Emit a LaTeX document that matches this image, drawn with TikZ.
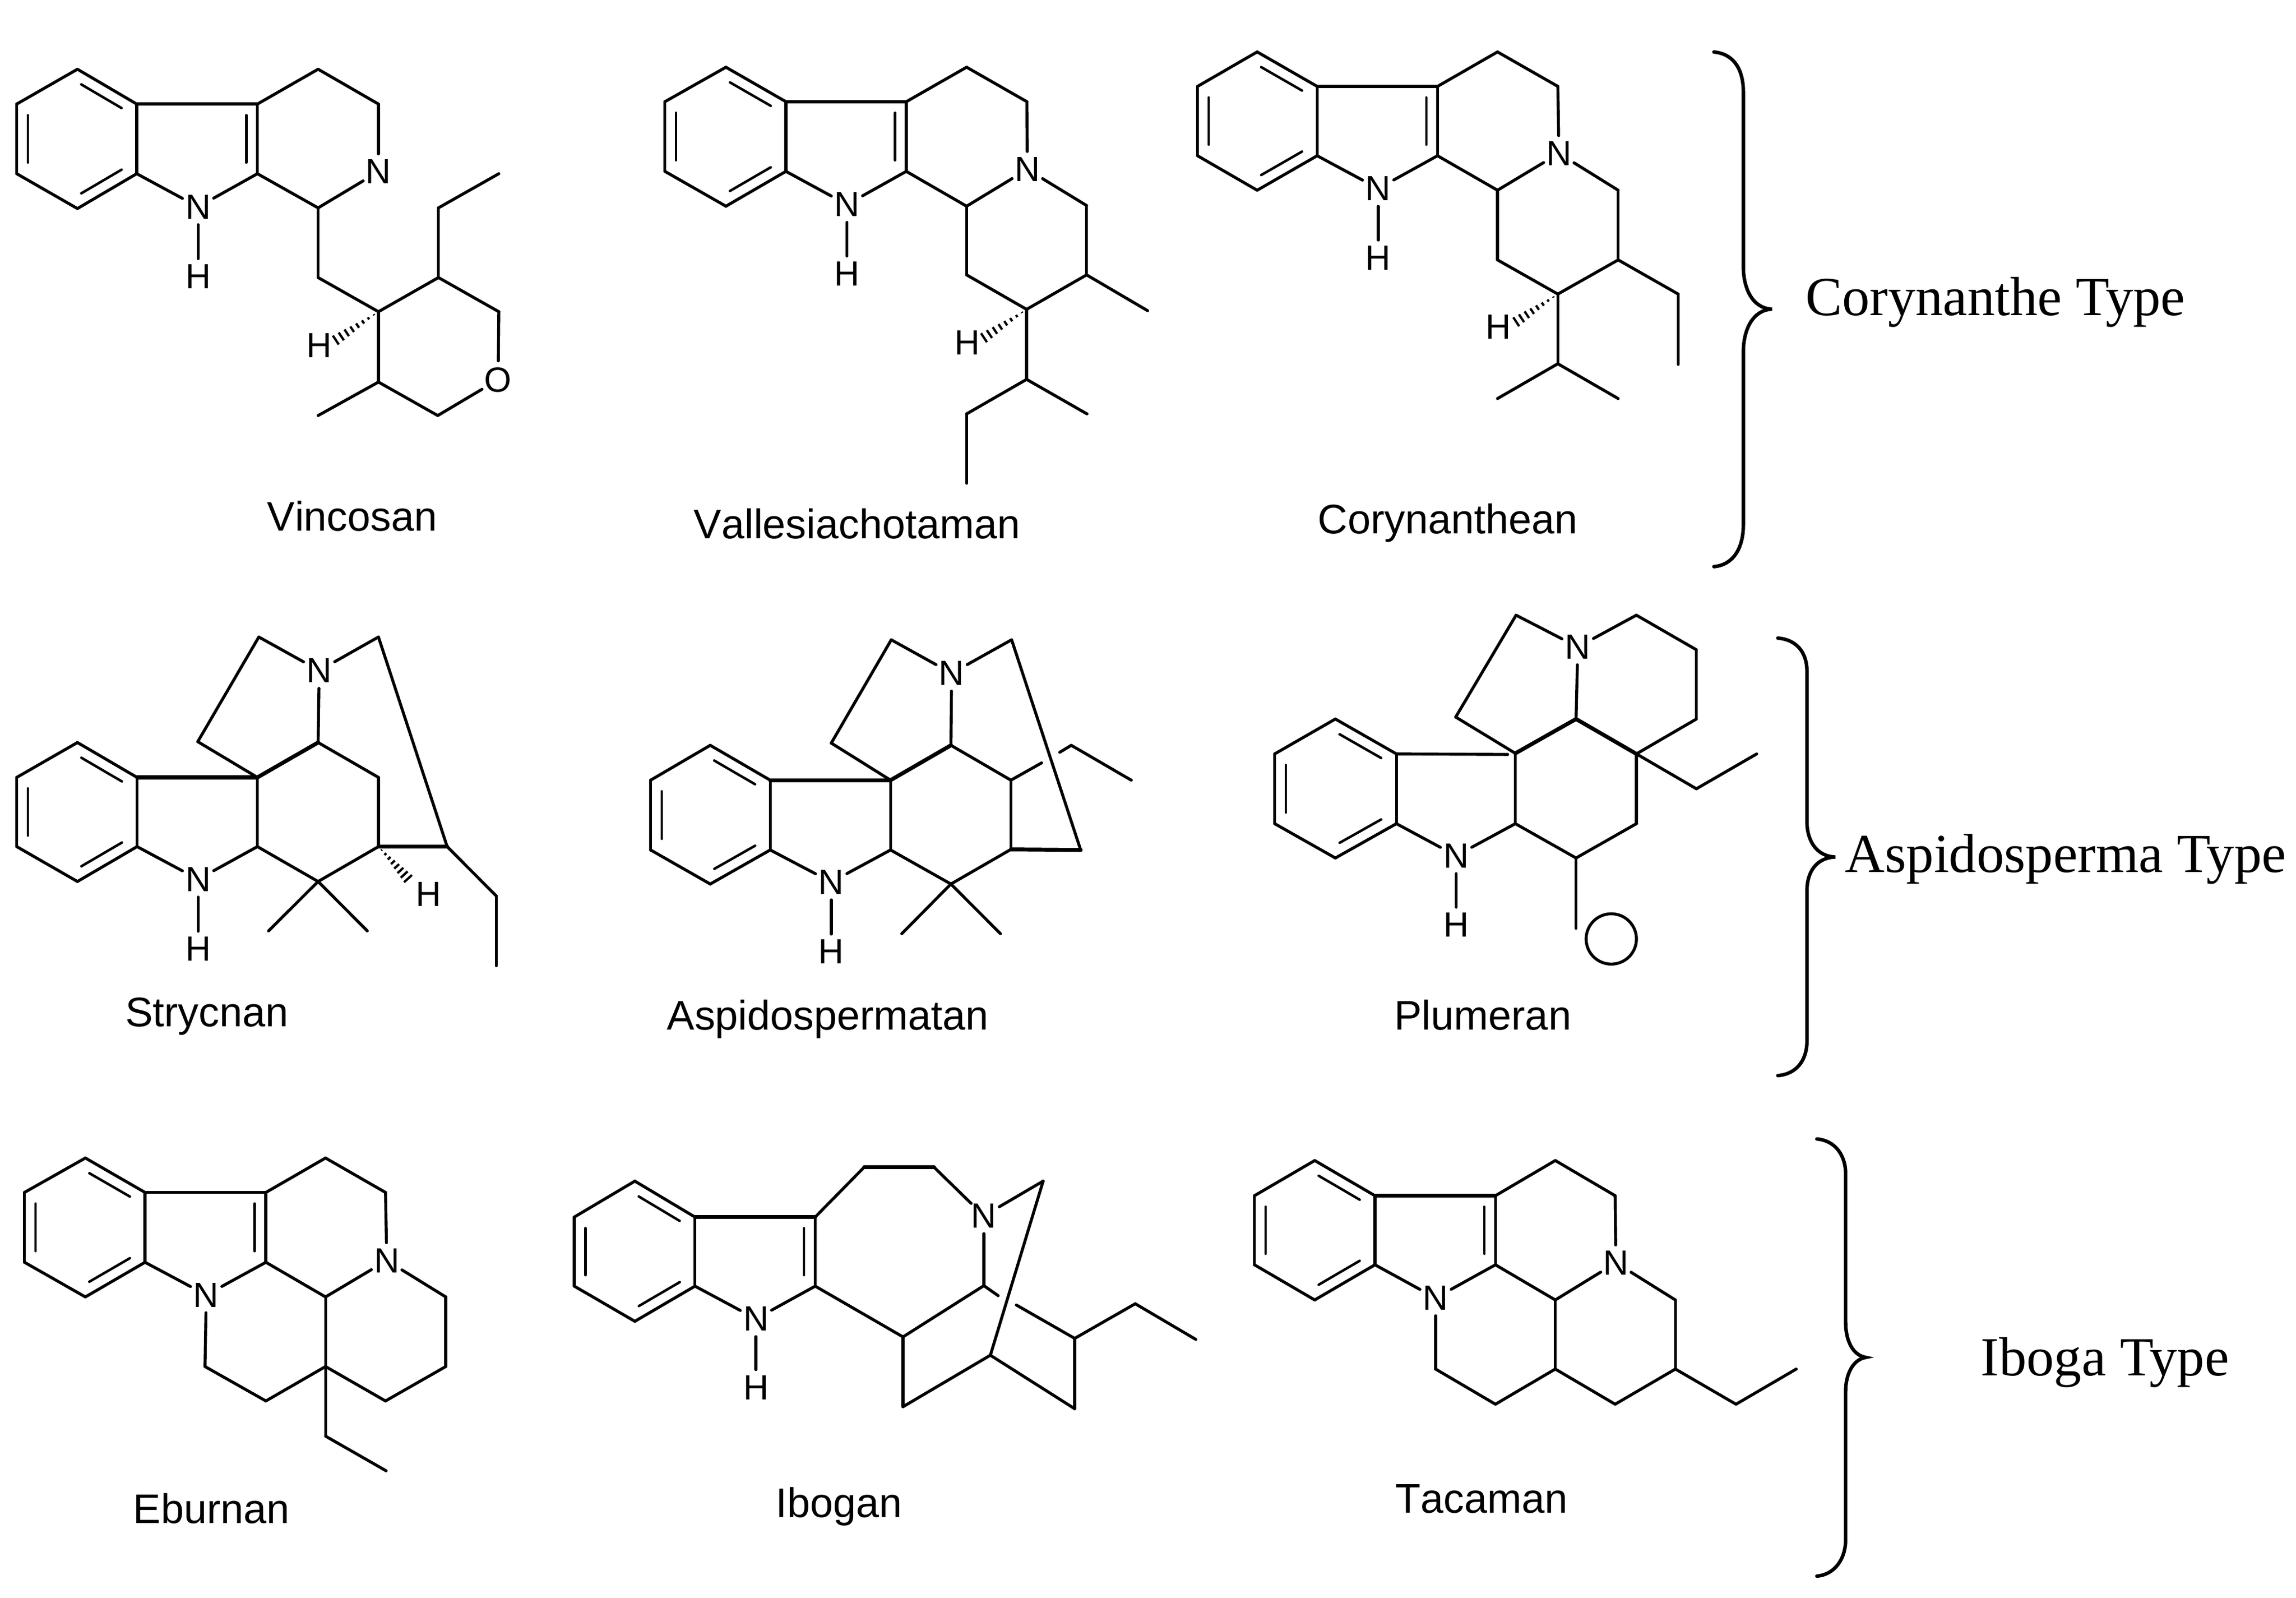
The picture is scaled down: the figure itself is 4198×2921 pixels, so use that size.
\documentclass[tikz,border=0pt]{standalone}
\usepackage{fontspec}
\setmainfont[Kerning=Off]{Liberation Sans}
\newfontfamily\tmsfont{Liberation Serif}
\usetikzlibrary{calc,shapes.geometric}
\tikzset{
  bond/.style={line width=1.35pt,line cap=round,line join=miter,black},
  bondb/.style={bond,line width=1.8pt},
  inner/.style={line width=1.15pt,line cap=round,black},
  hashline/.style={line width=1.05pt,black},
  atom/.style={circle,inner sep=0pt,minimum size=15.5pt,font=\fontsize{16}{17}\selectfont},
  lab/.style={anchor=base west,inner sep=0pt,font=\fontsize{18.9}{21}\selectfont},
  typelab/.style={anchor=base west,inner sep=0pt,font=\tmsfont\fontsize{25.15}{27}\selectfont},
  brace/.style={line width=1.6pt,line cap=round,black},
}
\newcommand{\pts}[2]{\foreach \nn/\xx/\yy in {#2} {\coordinate (#1\nn) at (\xx,\yy);}}
\newcommand{\bnd}[2]{\foreach \pp/\qq in {#2} {\draw[bond] (#1\pp) -- (#1\qq);}}
\newcommand{\bndb}[2]{\foreach \pp/\qq in {#2} {\draw[bondb] (#1\pp) -- (#1\qq);}}
\newcommand{\dbl}[2]{\draw[inner] ($(#1)!.16!(#2)!5.1pt!-90:(#2)$) -- ($(#2)!.16!(#1)!5.1pt!90:(#1)$);}
\newcommand{\ring}[1]{\bnd{#1}{a/b,b/c,c/d,d/e,e/f,f/a}\dbl{#1a}{#1b}\dbl{#1c}{#1d}\dbl{#1e}{#1f}}
\newcommand{\hashb}[2]{\foreach \hh in {.1,.22,.34,.46,.58,.70,.82,.94} {%
  \pgfmathsetmacro{\hl}{\hh*2.6}%
  \draw[hashline] ($(#1)!\hh!(#2)!\hl pt!90:(#2)$) -- ($(#1)!\hh!(#2)!\hl pt!-90:(#2)$);}}
\begin{document}
\begin{tikzpicture}[x=0.25pt,y=-0.25pt]
\fill[white] (0,0) rectangle (4198,2921);
\useasboundingbox (0,0) rectangle (4198,2921);

% Vincosan
\begin{scope}[shift={(0,80)},x=0.15944pt,y=-0.15306pt]
\pts{m1}{a/222/76,b/392/180,c/392/388,d/222/492,e/48/388,f/48/180,g/738/180,h/738/388,i/912/76,j/1085/180,k/912/490,l/912/698,m/1085/800,n/1257/698,o/1257/490,p/1430/388,q/1430/800,r/1255/1110,s/1085/1010,t/912/1110,hx/955/890}
\node[atom] (m1N1) at (568,487) {N};
\node[atom] (m1H1) at (568,695) {H};
\node[atom] (m1N2) at (1085,382) {N};
\node[atom] (m1O) at (1428,1003) {O};
\node[atom] (m1H2) at (915,900) {H};
\ring{m1}\dbl{m1g}{m1h}
\bnd{m1}{b/g,g/h,c/N1,N1/h,N1/H1,g/i,i/j,j/N2,N2/k,k/h,k/l,l/m,m/n,n/o,o/p,n/q,q/O,O/r,r/s,s/m,s/t}
\hashb{m1m}{m1hx}
\node[lab] (m1lab) at (765,1455) {Vincosan};
\end{scope}

% Vallesiachotaman
\begin{scope}[shift={(1150,80)},x=0.15944pt,y=-0.15306pt]
\pts{m2}{a/278/70,b/450/173,c/450/381,d/278/485,e/103/381,f/103/173,g/795/173,h/795/381,i/968/70,j/1141/173,k/968/485,l/968/690,m/1140/793,n/1312/690,o/1312/483,p/1487/797,q/1140/1002,r/968/1105,s/968/1312,t/1313/1105,hx/1010/883}
\node[atom] (m2N1) at (625,480) {N};
\node[atom] (m2H1) at (625,687) {H};
\node[atom] (m2N2) at (1142,375) {N};
\node[atom] (m2H2) at (970,893) {H};
\ring{m2}\dbl{m2g}{m2h}
\bnd{m2}{b/g,g/h,c/N1,N1/h,N1/H1,g/i,i/j,j/N2,N2/k,k/h,N2/o,o/n,n/m,m/l,l/k,n/p,m/q,q/r,r/s,q/t}
\hashb{m2m}{m2hx}
\node[lab] (m2lab) at (185,1478) {Vallesiachotaman};
\end{scope}

% Corynanthean
\begin{scope}[shift={(2150,60)},x=0.15944pt,y=-0.15306pt]
\pts{m3}{a/233/57,b/405/160,c/405/367,d/233/470,e/62/367,f/62/160,g/750/160,h/750/367,i/922/57,j/1095/160,k/922/470,l/922/678,m/1095/780,n/1268/678,o/1268/470,p/1440/780,q/1440/990,r/1095/988,s/922/1092,t/1268/1092,hx/968/868}
\node[atom] (m3N1) at (580,465) {N};
\node[atom] (m3H1) at (580,672) {H};
\node[atom] (m3N2) at (1098,360) {N};
\node[atom] (m3H2) at (925,878) {H};
\ring{m3}\dbl{m3g}{m3h}
\bnd{m3}{b/g,g/h,c/N1,N1/h,N1/H1,g/i,i/j,j/N2,N2/k,k/h,N2/o,o/n,n/m,m/l,l/k,n/p,p/q,m/r,r/s,r/t}
\hashb{m3m}{m3hx}
\node[lab] (m3lab) at (406,1495) {Corynanthean};
\end{scope}

% Strycnan
\begin{scope}[shift={(0,1120)},x=0.15944pt,y=-0.12755pt]
\pts{m4}{a/222/465,b/393/590,c/393/838,d/222/963,e/48/838,f/48/590,g/738/590,h/738/838,i/742/87,j/1085/87,k/567/462,l/912/465,m/1085/590,n/1085/838,o/912/963,p/770/1140,q/1053/1140,r/1282/838,s/1423/1015,t/1423/1265,hx/1175/960,hs/1085/838}
\node[atom] (m4N1) at (568,955) {N};
\node[atom] (m4H1) at (568,1205) {H};
\node[atom] (m4N2) at (915,207) {N};
\node[atom] (m4H2) at (1228,1008) {H};
\ring{m4}
\bnd{m4}{g/h,c/N1,N1/h,N1/H1,h/o,o/n,n/m,m/l,N2/l,N2/i,i/k,k/g,N2/j,j/r,r/s,s/t,o/p,o/q}
\bndb{m4}{b/g,l/g,n/r}
\hashb{m4hs}{m4hx}
\node[lab] (m4lab) at (358,1483) {Strycnan};
\end{scope}

% Aspidospermatan
\begin{scope}[shift={(1150,1120)},x=0.15944pt,y=-0.12755pt]
\pts{m5}{a/233/475,b/405/600,c/405/850,d/233/972,e/62/850,f/62/600,g/750/600,h/750/850,i/752/97,j/1097/97,k/580/467,l/923/475,m/1095/600,n/1095/848,o/923/972,p/782/1150,q/1065/1150,r/1295/850,u/1183/538,v/1235/500,s/1268/475,t/1440/600}
\node[atom] (m5N1) at (580,965) {N};
\node[atom] (m5H1) at (580,1215) {H};
\node[atom] (m5N2) at (925,217) {N};
\ring{m5}
\bnd{m5}{g/h,c/N1,N1/h,N1/H1,h/o,o/n,n/m,m/l,N2/l,N2/i,i/k,k/g,N2/j,j/r,m/u,v/s,s/t,o/p,o/q}
\bndb{m5}{b/g,l/g,n/r}
\node[lab] (m5lab) at (108,1495) {Aspidospermatan};
\end{scope}

% Plumeran
\begin{scope}[shift={(2300,1100)},x=0.15944pt,y=-0.12755pt]
\pts{m6}{a/222/420,b/397/545,c/397/795,d/222/918,e/48/795,f/48/545,x/716/547,g/738/543,h/738/795,i/740/48,j/1085/48,k/1257/172,l/1257/420,m/1085/545,n/912/420,o/567/413,p/1257/670,q/1430/545,r/1085/795,s/912/918,t/912/1170}
\node[atom] (m6N1) at (568,910) {N};
\node[atom] (m6H1) at (568,1158) {H};
\node[atom] (m6N2) at (917,162) {N};
\node[draw,ellipse,line width=1.35pt,inner sep=0pt,minimum width=23pt,minimum height=23pt] (m6O) at (1013,1208) {};
\ring{m6}
\bnd{m6}{b/x,g/h,c/N1,N1/h,N1/H1,h/s,s/r,r/m,N2/n,N2/i,i/o,o/g,N2/j,j/k,k/l,l/m,m/p,p/q,s/t}
\bndb{m6}{g/n,n/m}
\node[lab] (m6lab) at (390,1533) {Plumeran};
\end{scope}

% Eburnan
\begin{scope}[shift={(0,2080)},x=0.14349pt,y=-0.11480pt]
\pts{m7}{a/272/80,b/462/217,c/462/495,d/272/633,e/78/495,f/78/217,g/847/217,h/847/495,i/1037/80,j/1228/217,k/1037/633,l/1420/633,m/1420/910,n/1228/1047,o/1037/910,p/847/1047,q/653/910,r/1037/1187,s/1230/1325}
\node[atom] (m7N1) at (657,625) {N};
\node[atom] (m7N2) at (1232,488) {N};
\ring{m7}\dbl{m7g}{m7h}
\bnd{m7}{b/g,g/h,c/N1,N1/h,g/i,i/j,j/N2,N2/k,k/h,N2/l,l/m,m/n,n/o,o/k,o/p,p/q,q/N1,o/r,r/s}
\node[lab] (m7lab) at (423,1533) {Eburnan};
\end{scope}

% Ibogan
\begin{scope}[shift={(1020,2080)},x=0.19770pt,y=-0.11480pt]
\pts{m8}{a/178/172,b/317/315,c/317/590,d/178/730,e/38/590,f/38/315,g/595/315,h/595/590,i/708/117,j/870/117,k/1122/172,l/1000/865,m/985/588,n/798/792,o/798/1070,p/1195/1078,q/1195/798,r/1335/660,s/1475/802,u/1018/628,v/1060/665}
\node[atom] (m8N1) at (458,720) {N};
\node[atom] (m8H1) at (458,993) {H};
\node[atom] (m8N2) at (985,310) {N};
\ring{m8}\dbl{m8g}{m8h}
\bnd{m8}{g/h,c/N1,N1/h,N1/H1,g/i,j/N2,N2/k,k/l,N2/m,m/n,h/n,n/o,o/l,l/p,p/q,q/v,m/u,q/r,r/s}
\bndb{m8}{b/g,i/j}
\node[lab] (m8lab) at (503,1510) {Ibogan};
\end{scope}

% Tacaman
\begin{scope}[shift={(2260,2080)},x=0.17538pt,y=-0.11480pt]
\pts{m9}{a/205/90,b/362/230,c/362/505,d/205/645,e/48/505,f/48/230,g/676/230,h/676/505,i/832/90,j/988/230,k/832/645,l/1145/645,m/1145/920,n/988/1060,o/832/920,p/676/1060,q/520/920,r/1303/1060,s/1460/920}
\node[atom] (m9N1) at (520,637) {N};
\node[atom] (m9N2) at (990,497) {N};
\ring{m9}\dbl{m9g}{m9h}
\bnd{m9}{g/h,c/N1,N1/h,g/i,i/j,j/N2,N2/k,k/h,N2/l,l/m,m/n,n/o,o/k,o/p,p/q,q/N1,m/r,r/s}
\bndb{m9}{b/g}
\node[lab] (m9lab) at (414,1493) {Tacaman};
\end{scope}

% Corynanthe brace
\begin{scope}[shift={(3100,60)},x=0.17506pt,y=-0.15944pt]
\draw[brace] (48,55) .. controls (100,60) and (125,105) .. (125,170) -- (125,670) .. controls (125,735) and (150,790) .. (200,792) .. controls (150,794) and (125,850) .. (125,915) -- (125,1410) .. controls (125,1475) and (100,1525) .. (48,1530);
\node[typelab] (t1lab) at (286,810) {Corynanthe Type};
\end{scope}

% Aspidosperma brace
\begin{scope}[shift={(3100,1140)},x=0.17506pt,y=-0.14031pt]
\draw[brace] (215,47) .. controls (265,52) and (291,95) .. (291,155) -- (291,645) .. controls (291,705) and (315,758) .. (365,760) .. controls (315,762) and (291,810) .. (291,870) -- (291,1360) .. controls (291,1420) and (265,1467) .. (215,1472);
\node[typelab] (t2lab) at (390,810) {Aspidosperma Type};
\end{scope}

% Iboga brace
\begin{scope}[shift={(3100,2060)},x=0.17506pt,y=-0.13728pt]
\draw[brace] (317,40) .. controls (365,45) and (392,95) .. (392,155) -- (392,650) .. controls (392,710) and (410,760) .. (445,767) .. controls (410,774) and (392,825) .. (392,880) -- (392,1375) .. controls (392,1435) and (365,1490) .. (317,1495);
\node[typelab] (t3lab) at (744,828) {Iboga Type};
\end{scope}
\end{tikzpicture}
\end{document}
